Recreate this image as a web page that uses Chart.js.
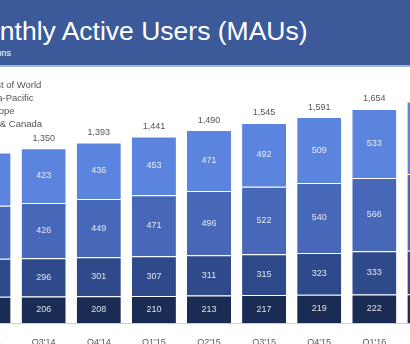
<!DOCTYPE html>
<html>
<head>
<meta charset="utf-8">
<script src="https://cdn.jsdelivr.net/npm/chart.js@4"></script>
<style>
  body { margin: 0; width: 410px; height: 344px; overflow: hidden; position: relative; background: #fff; font-family: "Liberation Sans", Arial, sans-serif; }
  #band { position: absolute; left: 0; top: 0; width: 410px; height: 65px; background: #3c5a99; border-bottom: 2px solid #a3b4d8; }
  #title { position: absolute; left: -37px; top: 18px; font-size: 26.5px; line-height: 27px; color: #fff; white-space: nowrap; }
  #sub { position: absolute; left: -29px; top: 49px; font-size: 9px; line-height: 9px; color: #fff; white-space: nowrap; }
  #chart { position: absolute; left: -39px; top: 67px; }
</style>
</head>
<body>
<div id="band"></div>
<div id="title">Monthly Active Users (MAUs)</div>
<div id="sub">In Millions</div>
<canvas id="chart" width="496" height="299"></canvas>
<script>
const quarters = ["Q2'14", "Q3'14", "Q4'14", "Q1'15", "Q2'15", "Q3'15", "Q4'15", "Q1'16", "Q2'16"];
const usCanada = [204, 206, 208, 210, 213, 217, 219, 222, 224];
const europe = [293, 296, 301, 307, 311, 315, 323, 333, 336];
const asiaPacific = [410, 426, 449, 471, 496, 522, 540, 566, 591];
const restOfWorld = [410, 423, 436, 453, 471, 492, 509, 533, 561];
const totals = [1317, 1350, 1393, 1441, 1490, 1545, 1591, 1654, 1712];

const FONT = '"Liberation Sans", Arial, sans-serif';

// numbers inside segments + totals on top + legend in the corner
const labelPlugin = {
  id: 'labels',
  afterDatasetsDraw(chart) {
    const ctx = chart.ctx;
    ctx.save();
    ctx.font = '9px ' + FONT;
    ctx.textAlign = 'center';
    ctx.textBaseline = 'middle';
    chart.data.datasets.forEach((ds, i) => {
      const meta = chart.getDatasetMeta(i);
      meta.data.forEach((bar, j) => {
        const p = bar.getProps(['x', 'y', 'base'], true);
        ctx.fillStyle = 'rgba(255,255,255,0.85)';
        ctx.fillText(ds.data[j], p.x, (p.y + p.base) / 2);
      });
    });
    const top = chart.getDatasetMeta(chart.data.datasets.length - 1);
    ctx.fillStyle = '#555';
    top.data.forEach((bar, j) => {
      ctx.fillText(totals[j].toLocaleString('en-US'), bar.x, bar.y - 10);
    });

    // legend, top first
    ctx.textAlign = 'left';
    ctx.textBaseline = 'alphabetic';
    ctx.font = '9.5px ' + FONT;
    const items = chart.data.datasets.slice().reverse();
    items.forEach((ds, k) => {
      const y = 21 + k * 13;
      ctx.fillStyle = ds.backgroundColor;
      ctx.fillRect(9, y - 7, 8, 8);
      ctx.fillStyle = '#555';
      ctx.fillText(ds.label, 23, y);
    });
    ctx.restore();
  }
};

const common = {
  barPercentage: 0.8,
  categoryPercentage: 1,
  borderColor: 'rgba(255,255,255,0.55)',
  borderWidth: { top: 1, right: 0, bottom: 0, left: 0 },
  borderSkipped: false
};

new Chart(document.getElementById('chart'), {
  type: 'bar',
  data: {
    labels: quarters,
    datasets: [
      { label: 'US & Canada', data: usCanada, backgroundColor: '#1a2b54', ...common },
      { label: 'Europe', data: europe, backgroundColor: '#2e4a8b', ...common },
      { label: 'Asia-Pacific', data: asiaPacific, backgroundColor: '#4768b9', ...common },
      { label: 'Rest of World', data: restOfWorld, backgroundColor: '#5b84df', ...common }
    ]
  },
  options: {
    responsive: false,
    animation: false,
    layout: { padding: { top: 23, bottom: 12, left: 0, right: 0 } },
    plugins: {
      legend: { display: false },
      tooltip: { enabled: false }
    },
    scales: {
      x: {
        stacked: true,
        grid: { display: false },
        border: { display: true, color: '#cfcfcf', width: 1 },
        ticks: { color: '#555', font: { family: FONT, size: 9 }, padding: 6, maxRotation: 0 }
      },
      y: {
        stacked: true,
        display: false,
        min: 0,
        max: 1800
      }
    }
  },
  plugins: [labelPlugin]
});
</script>
</body>
</html>
